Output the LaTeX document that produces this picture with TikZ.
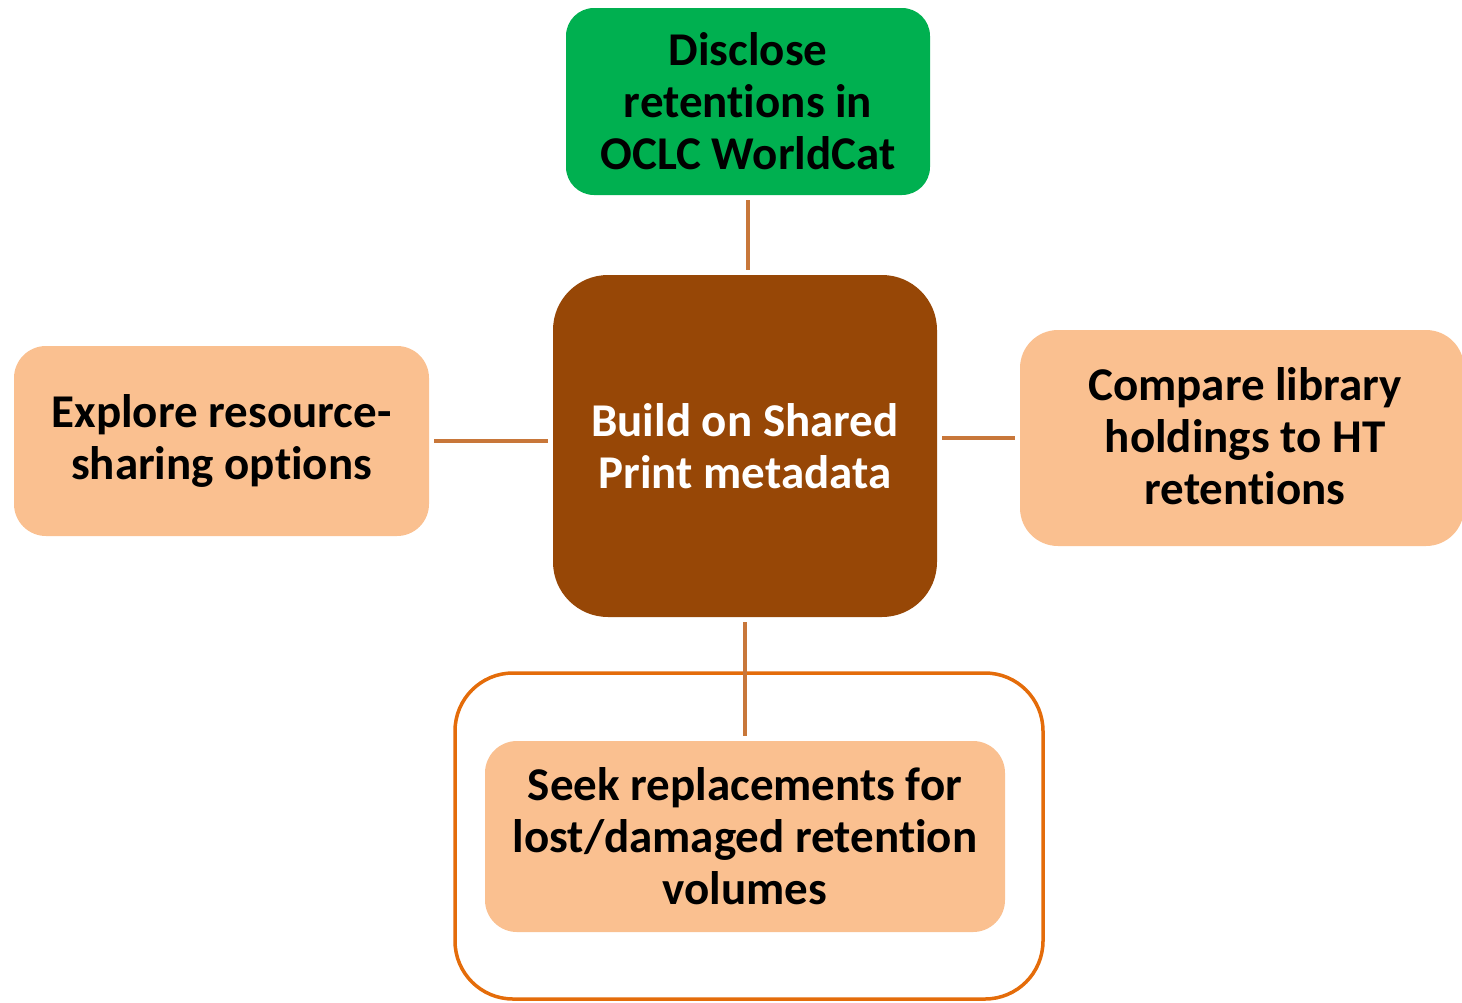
\documentclass[tikz,border=0pt]{standalone}
\usepackage{fontspec}
\setmainfont{Carlito}[Ligatures=NoCommon]
\definecolor{gr}{HTML}{00B050}
\definecolor{br}{HTML}{974706}
\definecolor{pe}{HTML}{FAC090}
\definecolor{og}{HTML}{E46C0A}
\definecolor{ln}{HTML}{C8773A}
\begin{document}
\begin{tikzpicture}[x=1pt,y=-1pt,
  box/.style={rectangle,align=center,inner sep=0pt,font=\fontsize{47}{52}\selectfont\bfseries},
  conn/.style={draw=ln,line width=4pt,shorten <=5pt,shorten >=5pt}]
\useasboundingbox (0,0) rectangle (1462,1002);
\node[box,fill=gr,rounded corners=28pt,minimum width=364pt,minimum height=187pt] (top) at (748,101.5) {Disclose\\retentions in\\OCLC WorldCat};
\node[box,fill=br,text=white,rounded corners=55pt,minimum width=384pt,minimum height=342pt] (ctr) at (745,446) {Build on Shared\\Print metadata};
\node[box,fill=pe,rounded corners=32pt,minimum width=415pt,minimum height=190pt] (left) at (221.5,441) {Explore resource-\\sharing options};
\node[box,fill=pe,rounded corners=38pt,minimum width=444pt,minimum height=216pt] (right) at (1242,438) {};
\node[box,align=center] (rtext) at (1245,436) {Compare library\\holdings to HT\\retentions};
\node[draw=og,line width=3.5pt,fill=white,rounded corners=58pt,minimum width=588pt,minimum height=326pt] (outer) at (749,836) {};
\node[box,fill=pe,rounded corners=32pt,minimum width=520pt,minimum height=191pt] (bot) at (745,836.5) {Seek replacements for\\lost/damaged retention\\volumes};
\coordinate (bend) at (745,736);
\draw[conn] (top.south) -- (top.south |- ctr.north);
\draw[conn] (left.east) -- (left.east -| ctr.west);
\draw[conn] (ctr.east |- right.west) -- (right.west);
\draw[conn,shorten >=0pt] (ctr.south) -- (bend);
\end{tikzpicture}
\end{document}
